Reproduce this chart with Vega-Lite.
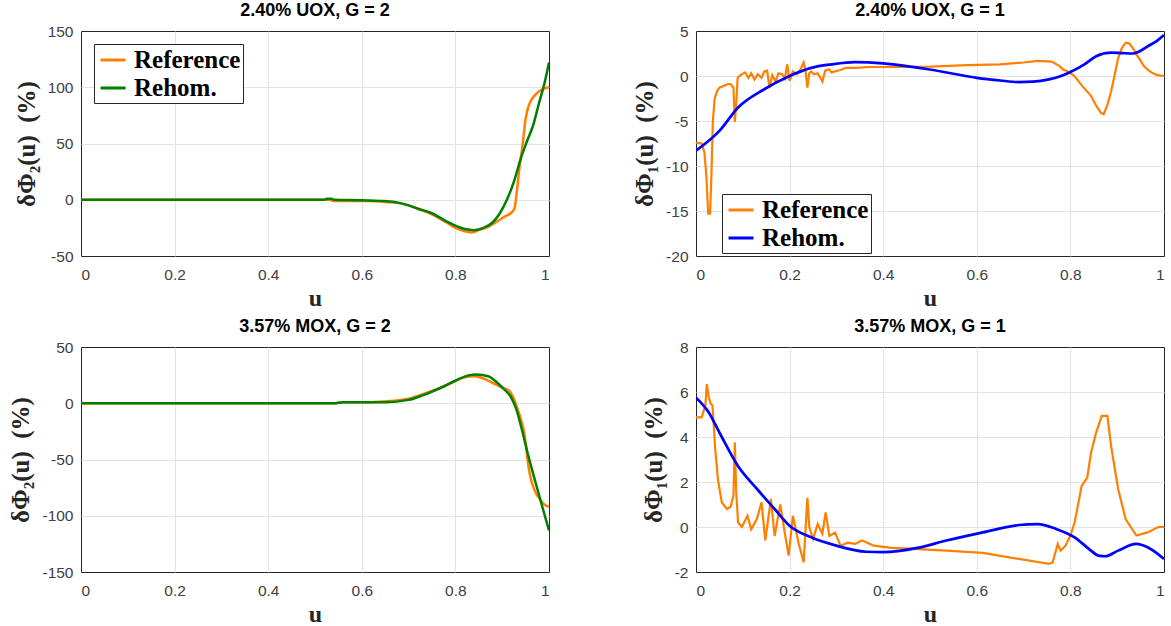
{
"$schema": "https://vega.github.io/schema/vega-lite/v6.json",
"padding": {"left": 8, "top": 1, "right": 0, "bottom": 0},
"bounds": "flush",
"columns": 2,
"spacing": {"row": 91, "column": 147},
"resolve": {"scale": {"color": "independent", "x": "independent", "y": "independent"}, "legend": {"color": "independent"}},
"datasets": {
"A": [
{"s":"Reference","u":0,"v":0},{"s":"Reference","u":0.1,"v":0},{"s":"Reference","u":0.2,"v":0},{"s":"Reference","u":0.3,"v":0},{"s":"Reference","u":0.4,"v":0},{"s":"Reference","u":0.5,"v":0},{"s":"Reference","u":0.53,"v":0},{"s":"Reference","u":0.54,"v":-1},{"s":"Reference","u":0.58,"v":-1},{"s":"Reference","u":0.62,"v":-1},{"s":"Reference","u":0.65,"v":-2},{"s":"Reference","u":0.68,"v":-3},{"s":"Reference","u":0.7,"v":-5},{"s":"Reference","u":0.72,"v":-8},{"s":"Reference","u":0.75,"v":-13},{"s":"Reference","u":0.78,"v":-20},{"s":"Reference","u":0.8,"v":-25},{"s":"Reference","u":0.82,"v":-28},{"s":"Reference","u":0.835,"v":-29},{"s":"Reference","u":0.85,"v":-27},{"s":"Reference","u":0.87,"v":-24},{"s":"Reference","u":0.89,"v":-19},{"s":"Reference","u":0.905,"v":-15},{"s":"Reference","u":0.918,"v":-12},{"s":"Reference","u":0.926,"v":-8},{"s":"Reference","u":0.932,"v":10},{"s":"Reference","u":0.937,"v":29},{"s":"Reference","u":0.944,"v":50},{"s":"Reference","u":0.95,"v":72},{"s":"Reference","u":0.958,"v":85},{"s":"Reference","u":0.966,"v":91},{"s":"Reference","u":0.975,"v":95},{"s":"Reference","u":0.985,"v":98},{"s":"Reference","u":1,"v":100},
{"s":"Rehom.","u":0,"v":0},{"s":"Rehom.","u":0.1,"v":0},{"s":"Rehom.","u":0.2,"v":0},{"s":"Rehom.","u":0.3,"v":0},{"s":"Rehom.","u":0.4,"v":0},{"s":"Rehom.","u":0.52,"v":0},{"s":"Rehom.","u":0.525,"v":1},{"s":"Rehom.","u":0.535,"v":1},{"s":"Rehom.","u":0.54,"v":0},{"s":"Rehom.","u":0.6,"v":-0.5},{"s":"Rehom.","u":0.64,"v":-1},{"s":"Rehom.","u":0.67,"v":-2},{"s":"Rehom.","u":0.7,"v":-5},{"s":"Rehom.","u":0.72,"v":-8},{"s":"Rehom.","u":0.75,"v":-12},{"s":"Rehom.","u":0.78,"v":-19},{"s":"Rehom.","u":0.8,"v":-23},{"s":"Rehom.","u":0.82,"v":-26},{"s":"Rehom.","u":0.84,"v":-27},{"s":"Rehom.","u":0.86,"v":-25},{"s":"Rehom.","u":0.88,"v":-20},{"s":"Rehom.","u":0.895,"v":-12},{"s":"Rehom.","u":0.91,"v":0},{"s":"Rehom.","u":0.925,"v":16},{"s":"Rehom.","u":0.94,"v":37},{"s":"Rehom.","u":0.953,"v":52},{"s":"Rehom.","u":0.966,"v":66},{"s":"Rehom.","u":0.98,"v":88},{"s":"Rehom.","u":0.99,"v":103},{"s":"Rehom.","u":1,"v":122}
],
"B": [
{"s":"Reference","u":0,"v":-7.4},{"s":"Reference","u":0.012,"v":-7.5},{"s":"Reference","u":0.018,"v":-8.5},{"s":"Reference","u":0.022,"v":-11},{"s":"Reference","u":0.026,"v":-15.3},{"s":"Reference","u":0.03,"v":-15.3},{"s":"Reference","u":0.033,"v":-11},{"s":"Reference","u":0.036,"v":-5},{"s":"Reference","u":0.04,"v":-2.5},{"s":"Reference","u":0.045,"v":-1.7},{"s":"Reference","u":0.05,"v":-1.3},{"s":"Reference","u":0.059,"v":-1.1},{"s":"Reference","u":0.068,"v":-0.9},{"s":"Reference","u":0.074,"v":-0.9},{"s":"Reference","u":0.08,"v":-1.3},{"s":"Reference","u":0.083,"v":-5.1},{"s":"Reference","u":0.086,"v":-3},{"s":"Reference","u":0.089,"v":-0.2},{"s":"Reference","u":0.095,"v":0.1},{"s":"Reference","u":0.105,"v":0.4},{"s":"Reference","u":0.112,"v":-0.2},{"s":"Reference","u":0.118,"v":0.3},{"s":"Reference","u":0.125,"v":-0.4},{"s":"Reference","u":0.132,"v":0.2},{"s":"Reference","u":0.14,"v":-0.2},{"s":"Reference","u":0.146,"v":0.5},{"s":"Reference","u":0.152,"v":0.6},{"s":"Reference","u":0.157,"v":-1.3},{"s":"Reference","u":0.163,"v":0.1},{"s":"Reference","u":0.17,"v":-0.6},{"s":"Reference","u":0.176,"v":0.3},{"s":"Reference","u":0.184,"v":0.2},{"s":"Reference","u":0.19,"v":-0.3},{"s":"Reference","u":0.195,"v":1.3},{"s":"Reference","u":0.2,"v":-0.55},{"s":"Reference","u":0.207,"v":0.5},{"s":"Reference","u":0.215,"v":0.2},{"s":"Reference","u":0.222,"v":0.6},{"s":"Reference","u":0.23,"v":1.5},{"s":"Reference","u":0.234,"v":0.6},{"s":"Reference","u":0.238,"v":-1.3},{"s":"Reference","u":0.242,"v":0.3},{"s":"Reference","u":0.246,"v":0.5},{"s":"Reference","u":0.252,"v":0.2},{"s":"Reference","u":0.26,"v":0.3},{"s":"Reference","u":0.266,"v":-0.2},{"s":"Reference","u":0.27,"v":-0.6},{"s":"Reference","u":0.276,"v":0.6},{"s":"Reference","u":0.284,"v":0.75},{"s":"Reference","u":0.29,"v":0.4},{"s":"Reference","u":0.3,"v":0.55},{"s":"Reference","u":0.31,"v":0.7},{"s":"Reference","u":0.32,"v":0.9},{"s":"Reference","u":0.34,"v":0.9},{"s":"Reference","u":0.37,"v":1.0},{"s":"Reference","u":0.42,"v":1.0},{"s":"Reference","u":0.5,"v":1.04},{"s":"Reference","u":0.58,"v":1.2},{"s":"Reference","u":0.65,"v":1.3},{"s":"Reference","u":0.7,"v":1.5},{"s":"Reference","u":0.73,"v":1.67},{"s":"Reference","u":0.76,"v":1.6},{"s":"Reference","u":0.777,"v":1.1},{"s":"Reference","u":0.785,"v":0.7},{"s":"Reference","u":0.793,"v":0.55},{"s":"Reference","u":0.809,"v":0},{"s":"Reference","u":0.825,"v":-1.1},{"s":"Reference","u":0.844,"v":-2.2},{"s":"Reference","u":0.855,"v":-3.3},{"s":"Reference","u":0.865,"v":-4.1},{"s":"Reference","u":0.871,"v":-4.25},{"s":"Reference","u":0.879,"v":-3.2},{"s":"Reference","u":0.887,"v":-1.7},{"s":"Reference","u":0.895,"v":0.2},{"s":"Reference","u":0.902,"v":2.0},{"s":"Reference","u":0.91,"v":3.1},{"s":"Reference","u":0.918,"v":3.7},{"s":"Reference","u":0.926,"v":3.6},{"s":"Reference","u":0.935,"v":3.0},{"s":"Reference","u":0.941,"v":2.4},{"s":"Reference","u":0.95,"v":1.7},{"s":"Reference","u":0.957,"v":1.1},{"s":"Reference","u":0.965,"v":0.7},{"s":"Reference","u":0.973,"v":0.4},{"s":"Reference","u":0.985,"v":0.1},{"s":"Reference","u":1,"v":0},
{"s":"Rehom.","u":0,"v":-8.3},{"s":"Rehom.","u":0.05,"v":-6.1},{"s":"Rehom.","u":0.09,"v":-3.5},{"s":"Rehom.","u":0.145,"v":-1.5},{"s":"Rehom.","u":0.2,"v":0},{"s":"Rehom.","u":0.246,"v":0.9},{"s":"Rehom.","u":0.29,"v":1.3},{"s":"Rehom.","u":0.34,"v":1.55},{"s":"Rehom.","u":0.4,"v":1.4},{"s":"Rehom.","u":0.45,"v":1.1},{"s":"Rehom.","u":0.496,"v":0.75},{"s":"Rehom.","u":0.55,"v":0.25},{"s":"Rehom.","u":0.6,"v":-0.2},{"s":"Rehom.","u":0.65,"v":-0.5},{"s":"Rehom.","u":0.69,"v":-0.67},{"s":"Rehom.","u":0.72,"v":-0.62},{"s":"Rehom.","u":0.754,"v":-0.37},{"s":"Rehom.","u":0.78,"v":0},{"s":"Rehom.","u":0.8,"v":0.45},{"s":"Rehom.","u":0.83,"v":1.3},{"s":"Rehom.","u":0.855,"v":2.2},{"s":"Rehom.","u":0.887,"v":2.6},{"s":"Rehom.","u":0.91,"v":2.55},{"s":"Rehom.","u":0.934,"v":2.5},{"s":"Rehom.","u":0.95,"v":2.8},{"s":"Rehom.","u":0.965,"v":3.3},{"s":"Rehom.","u":0.985,"v":3.9},{"s":"Rehom.","u":1,"v":4.55}
],
"C": [
{"s":"Reference","u":0,"v":0},{"s":"Reference","u":0.1,"v":0},{"s":"Reference","u":0.2,"v":0},{"s":"Reference","u":0.3,"v":0},{"s":"Reference","u":0.4,"v":0},{"s":"Reference","u":0.54,"v":0},{"s":"Reference","u":0.56,"v":1},{"s":"Reference","u":0.62,"v":1},{"s":"Reference","u":0.66,"v":2},{"s":"Reference","u":0.7,"v":4},{"s":"Reference","u":0.73,"v":8},{"s":"Reference","u":0.77,"v":14},{"s":"Reference","u":0.8,"v":20},{"s":"Reference","u":0.82,"v":23},{"s":"Reference","u":0.84,"v":24},{"s":"Reference","u":0.86,"v":22},{"s":"Reference","u":0.88,"v":18},{"s":"Reference","u":0.9,"v":14},{"s":"Reference","u":0.915,"v":11},{"s":"Reference","u":0.925,"v":4},{"s":"Reference","u":0.935,"v":-8},{"s":"Reference","u":0.945,"v":-22},{"s":"Reference","u":0.95,"v":-35},{"s":"Reference","u":0.956,"v":-56},{"s":"Reference","u":0.963,"v":-70},{"s":"Reference","u":0.971,"v":-79},{"s":"Reference","u":0.98,"v":-85},{"s":"Reference","u":0.99,"v":-90},{"s":"Reference","u":1,"v":-92},
{"s":"Rehom.","u":0,"v":0},{"s":"Rehom.","u":0.1,"v":0},{"s":"Rehom.","u":0.2,"v":0},{"s":"Rehom.","u":0.3,"v":0},{"s":"Rehom.","u":0.4,"v":0},{"s":"Rehom.","u":0.54,"v":0},{"s":"Rehom.","u":0.56,"v":1},{"s":"Rehom.","u":0.65,"v":1},{"s":"Rehom.","u":0.7,"v":3},{"s":"Rehom.","u":0.73,"v":7},{"s":"Rehom.","u":0.77,"v":14},{"s":"Rehom.","u":0.8,"v":20},{"s":"Rehom.","u":0.83,"v":25},{"s":"Rehom.","u":0.845,"v":25.5},{"s":"Rehom.","u":0.87,"v":24},{"s":"Rehom.","u":0.89,"v":18},{"s":"Rehom.","u":0.905,"v":12},{"s":"Rehom.","u":0.918,"v":6},{"s":"Rehom.","u":0.93,"v":-5},{"s":"Rehom.","u":0.94,"v":-20},{"s":"Rehom.","u":0.956,"v":-47},{"s":"Rehom.","u":0.971,"v":-70},{"s":"Rehom.","u":0.987,"v":-94},{"s":"Rehom.","u":1,"v":-113}
],
"D": [
{"s":"Reference","u":0,"v":4.87},{"s":"Reference","u":0.012,"v":4.87},{"s":"Reference","u":0.02,"v":5.4},{"s":"Reference","u":0.023,"v":6.35},{"s":"Reference","u":0.027,"v":5.8},{"s":"Reference","u":0.031,"v":5.5},{"s":"Reference","u":0.035,"v":5.4},{"s":"Reference","u":0.038,"v":4.5},{"s":"Reference","u":0.041,"v":3.46},{"s":"Reference","u":0.047,"v":2.1},{"s":"Reference","u":0.055,"v":1.1},{"s":"Reference","u":0.066,"v":0.8},{"s":"Reference","u":0.074,"v":0.9},{"s":"Reference","u":0.08,"v":1.4},{"s":"Reference","u":0.083,"v":3.76},{"s":"Reference","u":0.086,"v":1.5},{"s":"Reference","u":0.09,"v":0.2},{"s":"Reference","u":0.098,"v":0},{"s":"Reference","u":0.11,"v":0.5},{"s":"Reference","u":0.118,"v":-0.1},{"s":"Reference","u":0.13,"v":0.35},{"s":"Reference","u":0.14,"v":1.1},{"s":"Reference","u":0.148,"v":-0.6},{"s":"Reference","u":0.16,"v":1.25},{"s":"Reference","u":0.168,"v":-0.4},{"s":"Reference","u":0.18,"v":1.0},{"s":"Reference","u":0.19,"v":-0.3},{"s":"Reference","u":0.198,"v":-1.27},{"s":"Reference","u":0.207,"v":0.5},{"s":"Reference","u":0.219,"v":-0.7},{"s":"Reference","u":0.23,"v":-1.57},{"s":"Reference","u":0.238,"v":1.3},{"s":"Reference","u":0.242,"v":0},{"s":"Reference","u":0.25,"v":-0.53},{"s":"Reference","u":0.26,"v":0.13},{"s":"Reference","u":0.27,"v":-0.3},{"s":"Reference","u":0.277,"v":0.65},{"s":"Reference","u":0.285,"v":-0.4},{"s":"Reference","u":0.297,"v":-0.25},{"s":"Reference","u":0.309,"v":-0.83},{"s":"Reference","u":0.324,"v":-0.7},{"s":"Reference","u":0.34,"v":-0.75},{"s":"Reference","u":0.355,"v":-0.6},{"s":"Reference","u":0.38,"v":-0.83},{"s":"Reference","u":0.418,"v":-0.93},{"s":"Reference","u":0.473,"v":-0.98},{"s":"Reference","u":0.535,"v":-1.05},{"s":"Reference","u":0.613,"v":-1.15},{"s":"Reference","u":0.69,"v":-1.42},{"s":"Reference","u":0.754,"v":-1.64},{"s":"Reference","u":0.762,"v":-1.57},{"s":"Reference","u":0.773,"v":-0.75},{"s":"Reference","u":0.779,"v":-1.05},{"s":"Reference","u":0.789,"v":-0.85},{"s":"Reference","u":0.8,"v":-0.38},{"s":"Reference","u":0.809,"v":0.2},{"s":"Reference","u":0.816,"v":0.95},{"s":"Reference","u":0.824,"v":1.83},{"s":"Reference","u":0.836,"v":2.2},{"s":"Reference","u":0.844,"v":3.3},{"s":"Reference","u":0.855,"v":4.2},{"s":"Reference","u":0.867,"v":4.94},{"s":"Reference","u":0.879,"v":4.94},{"s":"Reference","u":0.887,"v":3.6},{"s":"Reference","u":0.902,"v":1.69},{"s":"Reference","u":0.918,"v":0.35},{"s":"Reference","u":0.941,"v":-0.38},{"s":"Reference","u":0.965,"v":-0.24},{"s":"Reference","u":0.988,"v":0},{"s":"Reference","u":1,"v":0},
{"s":"Rehom.","u":0,"v":5.75},{"s":"Rehom.","u":0.027,"v":5.1},{"s":"Rehom.","u":0.05,"v":4.2},{"s":"Rehom.","u":0.09,"v":2.7},{"s":"Rehom.","u":0.13,"v":1.7},{"s":"Rehom.","u":0.168,"v":0.8},{"s":"Rehom.","u":0.2,"v":0.06},{"s":"Rehom.","u":0.246,"v":-0.46},{"s":"Rehom.","u":0.3,"v":-0.83},{"s":"Rehom.","u":0.363,"v":-1.1},{"s":"Rehom.","u":0.4,"v":-1.12},{"s":"Rehom.","u":0.473,"v":-0.93},{"s":"Rehom.","u":0.535,"v":-0.6},{"s":"Rehom.","u":0.613,"v":-0.24},{"s":"Rehom.","u":0.69,"v":0.09},{"s":"Rehom.","u":0.73,"v":0.13},{"s":"Rehom.","u":0.77,"v":-0.09},{"s":"Rehom.","u":0.809,"v":-0.46},{"s":"Rehom.","u":0.84,"v":-0.98},{"s":"Rehom.","u":0.86,"v":-1.27},{"s":"Rehom.","u":0.875,"v":-1.3},{"s":"Rehom.","u":0.902,"v":-1.05},{"s":"Rehom.","u":0.941,"v":-0.75},{"s":"Rehom.","u":0.965,"v":-0.9},{"s":"Rehom.","u":1,"v":-1.42}
]
},
"concat": [
{
"title": "2.40% UOX, G = 2",
"width": 468, "height": 225,
"view": {"stroke": "#262626", "strokeWidth": 1},
"data": {"name": "A"},
"mark": {"type": "line", "strokeWidth": 2.5, "clip": true, "interpolate": "monotone"},
"encoding": {
"x": {"field": "u", "type": "quantitative", "scale": {"domain": [0, 1], "nice": false}, "axis": {"values": [0, 0.2, 0.4, 0.6, 0.8, 1], "title": "u", "format": "~g", "gridOpacity": {"condition": {"test": "datum.value == 0 || datum.value == 1", "value": 0}, "value": 1}}},
"y": {"field": "v", "type": "quantitative", "scale": {"domain": [-50, 150], "nice": false}, "axis": {"values": [-50, 0, 50, 100, 150], "title": "δΦ₂(u)\u2002(%)", "labelExpr": "datum.value + ''", "gridOpacity": {"condition": {"test": "datum.value == -50 || datum.value == 150", "value": 0}, "value": 1}}},
"color": {"field": "s", "type": "nominal", "scale": {"domain": ["Reference", "Rehom."], "range": ["#ff8000", "#008000"]}, "legend": {"orient": "none", "legendX": 13, "legendY": 13}}
}
},
{
"title": "2.40% UOX, G = 1",
"width": 468, "height": 225,
"view": {"stroke": "#262626", "strokeWidth": 1},
"data": {"name": "B"},
"encoding": {
"x": {"field": "u", "type": "quantitative", "scale": {"domain": [0, 1], "nice": false}, "axis": {"values": [0, 0.2, 0.4, 0.6, 0.8, 1], "title": "u", "format": "~g", "gridOpacity": {"condition": {"test": "datum.value == 0 || datum.value == 1", "value": 0}, "value": 1}}},
"y": {"field": "v", "type": "quantitative", "scale": {"domain": [-20, 5], "nice": false}, "axis": {"values": [-20, -15, -10, -5, 0, 5], "title": "δΦ₁(u)\u2002(%)", "labelExpr": "datum.value + ''", "gridOpacity": {"condition": {"test": "datum.value == -20 || datum.value == 5", "value": 0}, "value": 1}}},
"color": {"field": "s", "type": "nominal", "scale": {"domain": ["Reference", "Rehom."], "range": ["#ff8000", "#0000ff"]}, "legend": {"orient": "none", "legendX": 26, "legendY": 163}}
},
"layer": [
{"transform": [{"filter": "datum.s == 'Reference'"}], "mark": {"type": "line", "strokeWidth": 2.2, "clip": true}},
{"transform": [{"filter": "datum.s == 'Rehom.'"}], "mark": {"type": "line", "strokeWidth": 2.7, "clip": true, "interpolate": "monotone"}}
]
},
{
"title": "3.57% MOX, G = 2",
"width": 468, "height": 225,
"view": {"stroke": "#262626", "strokeWidth": 1},
"data": {"name": "C"},
"mark": {"type": "line", "strokeWidth": 2.5, "clip": true, "interpolate": "monotone"},
"encoding": {
"x": {"field": "u", "type": "quantitative", "scale": {"domain": [0, 1], "nice": false}, "axis": {"values": [0, 0.2, 0.4, 0.6, 0.8, 1], "title": "u", "format": "~g", "gridOpacity": {"condition": {"test": "datum.value == 0 || datum.value == 1", "value": 0}, "value": 1}}},
"y": {"field": "v", "type": "quantitative", "scale": {"domain": [-150, 50], "nice": false}, "axis": {"values": [-150, -100, -50, 0, 50], "title": "δΦ₂(u)\u2002(%)", "labelExpr": "datum.value + ''", "gridOpacity": {"condition": {"test": "datum.value == -150 || datum.value == 50", "value": 0}, "value": 1}}},
"color": {"field": "s", "type": "nominal", "scale": {"domain": ["Reference", "Rehom."], "range": ["#ff8000", "#008000"]}, "legend": null}
}
},
{
"title": "3.57% MOX, G = 1",
"width": 468, "height": 225,
"view": {"stroke": "#262626", "strokeWidth": 1},
"data": {"name": "D"},
"encoding": {
"x": {"field": "u", "type": "quantitative", "scale": {"domain": [0, 1], "nice": false}, "axis": {"values": [0, 0.2, 0.4, 0.6, 0.8, 1], "title": "u", "format": "~g", "gridOpacity": {"condition": {"test": "datum.value == 0 || datum.value == 1", "value": 0}, "value": 1}}},
"y": {"field": "v", "type": "quantitative", "scale": {"domain": [-2, 8], "nice": false}, "axis": {"values": [-2, 0, 2, 4, 6, 8], "title": "δΦ₁(u)\u2002(%)", "labelExpr": "datum.value + ''", "gridOpacity": {"condition": {"test": "datum.value == -2 || datum.value == 8", "value": 0}, "value": 1}}},
"color": {"field": "s", "type": "nominal", "scale": {"domain": ["Reference", "Rehom."], "range": ["#ff8000", "#0000ff"]}, "legend": null}
},
"layer": [
{"transform": [{"filter": "datum.s == 'Reference'"}], "mark": {"type": "line", "strokeWidth": 2.2, "clip": true}},
{"transform": [{"filter": "datum.s == 'Rehom.'"}], "mark": {"type": "line", "strokeWidth": 2.7, "clip": true, "interpolate": "monotone"}}
]
}
],
"config": {
"font": "Liberation Sans",
"view": {"stroke": "#262626", "strokeWidth": 1},
"axis": {"domain": false, "ticks": false, "grid": true, "gridColor": "#e3e3e3", "gridWidth": 1, "labelFont": "Liberation Sans", "labelFontSize": 15.5, "labelColor": "#404040", "labelPadding": 8, "titleFont": "Liberation Serif", "titleFontWeight": "bold", "titleFontSize": 25, "titleColor": "#262626"},
"axisX": {"titlePadding": 4, "labelPadding": 11, "titleFontSize": 24},
"axisY": {"titlePadding": 8},
"title": {"font": "Liberation Sans", "fontSize": 18, "fontWeight": "bold", "color": "#000000", "offset": 4},
"legend": {"title": null, "strokeColor": "#262626", "fillColor": "white", "padding": 2, "symbolOffset": 3, "labelFont": "Liberation Serif", "labelFontWeight": "bold", "labelFontSize": 25, "labelColor": "#000000", "symbolType": "stroke", "symbolStrokeWidth": 3, "symbolSize": 625, "rowPadding": 1, "labelOffset": 7, "cornerRadius": 0}
}
}
